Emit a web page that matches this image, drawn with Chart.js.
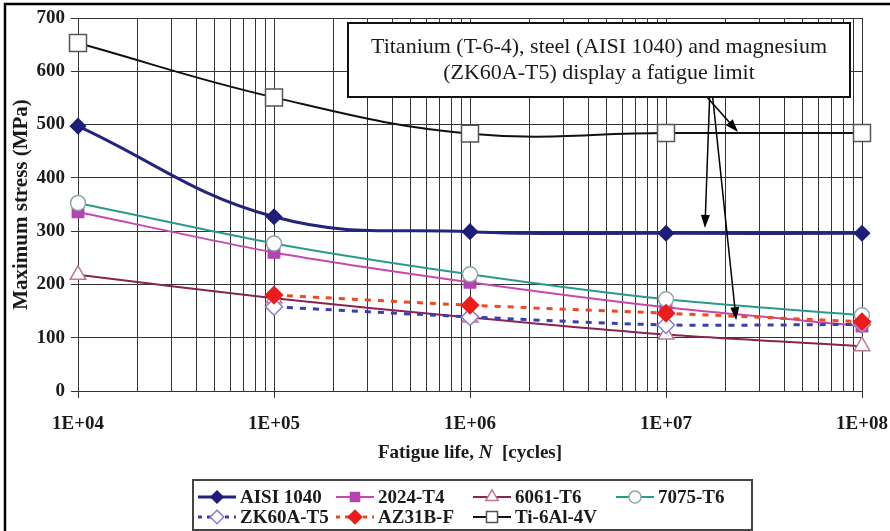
<!DOCTYPE html>
<html>
<head>
<meta charset="utf-8">
<script src="https://cdn.jsdelivr.net/npm/chart.js@4.4.1/dist/chart.umd.min.js"></script>
<style>
  html, body { margin: 0; padding: 0; background: #fff; }
  #wrap { width: 890px; height: 531px; position: relative; }
</style>
</head>
<body>
<div id="wrap"><canvas id="fatigueChart" width="890" height="531"></canvas></div>
<script>
// ===== Data =====
const lifeCycles = [1e4, 1e5, 1e6, 1e7, 1e8];
const xTickLabels = ['1E+04', '1E+05', '1E+06', '1E+07', '1E+08'];
const yTicks = [0, 100, 200, 300, 400, 500, 600, 700];

const seriesNames = ['AISI 1040', '2024-T4', '6061-T6', '7075-T6', 'ZK60A-T5', 'AZ31B-F', 'Ti-6Al-4V'];
const aisi1040 = [497, 327, 299, 296, 296];
const al2024T4 = [336, 260, 204, 157, 122];
const al6061T6 = [218, 174, 138, 106, 84];
const al7075T6 = [353, 277, 219, 172, 142];
const zk60aT5 = [null, 158, 139, 124, 125];
const az31bF = [null, 180, 161, 146, 130];
const ti6Al4V = [653, 551, 483, 484, 484];

const noteLines = ['Titanium (T-6-4), steel (AISI 1040) and magnesium', '(ZK60A-T5) display a fatigue limit'];
// arrow tips in data coords: [cycles, MPa]
const arrowStart = [1.67e7, 552];
const arrowTips = [[2.33e7, 486], [1.58e7, 306], [2.28e7, 133]];

const SERIF = '"Liberation Serif", "Times New Roman", serif';

// ===== Series styles =====
const styles = [
  { line: '#24247e', fill: '#1e1e78', edge: '#1e1e78', shape: 'rectRot', r: 7.5, width: 3, dash: [] },
  { line: '#c64aae', fill: '#b343b0', edge: '#b343b0', shape: 'rect', r: 8, width: 2, dash: [] },
  { line: '#8a2352', fill: '#ffffff', edge: '#c07890', shape: 'triangle', r: 9, width: 2, dash: [] },
  { line: '#2a9a8e', fill: '#ffffff', edge: '#8fa8a6', shape: 'circle', r: 7.5, width: 2, dash: [] },
  { line: '#3a3fae', fill: '#ffffff', edge: '#8a7acc', shape: 'rectRot', r: 8.5, width: 3, dash: [6, 7] },
  { line: '#ee4a22', fill: '#ec1c1c', edge: '#ec1c1c', shape: 'rectRot', r: 8.5, width: 3, dash: [6, 7] },
  { line: '#111111', fill: '#ffffff', edge: '#555555', shape: 'rect', r: 12, width: 2, dash: [] }
];
const seriesValues = [aisi1040, al2024T4, al6061T6, al7075T6, zk60aT5, az31bF, ti6Al4V];

const datasets = seriesNames.map((name, i) => {
  const s = styles[i];
  return {
    label: name,
    data: lifeCycles.map((x, k) => ({ x, y: seriesValues[i][k] })).filter(p => p.y !== null),
    borderColor: s.line,
    borderWidth: s.width,
    borderDash: s.dash,
    tension: (i === 0 || i === 6) ? 0.4 : 0.25,
    pointStyle: s.shape,
    pointRadius: s.r,
    pointBackgroundColor: s.fill,
    pointBorderColor: s.edge,
    pointBorderWidth: 1.5,
    clip: false,
    order: seriesNames.length - i // later series on top, like the source
  };
});

// draw a marker by hand for the legend
function drawMarker(ctx, s, x, y, scale) {
  const r = s.r * scale;
  ctx.save();
  ctx.fillStyle = s.fill;
  ctx.strokeStyle = s.edge;
  ctx.lineWidth = 1.5;
  ctx.setLineDash([]);
  ctx.beginPath();
  if (s.shape === 'rectRot') {
    ctx.moveTo(x, y - r); ctx.lineTo(x + r, y); ctx.lineTo(x, y + r); ctx.lineTo(x - r, y); ctx.closePath();
  } else if (s.shape === 'rect') {
    const h = r * Math.SQRT1_2;
    ctx.rect(x - h, y - h, 2 * h, 2 * h);
  } else if (s.shape === 'triangle') {
    ctx.moveTo(x, y - r); ctx.lineTo(x + r * 0.87, y + r * 0.5); ctx.lineTo(x - r * 0.87, y + r * 0.5); ctx.closePath();
  } else {
    ctx.arc(x, y, r, 0, Math.PI * 2);
  }
  ctx.fill();
  ctx.stroke();
  ctx.restore();
}

function drawArrow(ctx, x1, y1, x2, y2) {
  const ang = Math.atan2(y2 - y1, x2 - x1);
  const len = 13, half = 4.5;
  ctx.beginPath();
  ctx.moveTo(x1, y1);
  ctx.lineTo(x2 - Math.cos(ang) * len * 0.8, y2 - Math.sin(ang) * len * 0.8);
  ctx.stroke();
  ctx.beginPath();
  ctx.moveTo(x2, y2);
  ctx.lineTo(x2 - Math.cos(ang) * len - Math.sin(ang) * half, y2 - Math.sin(ang) * len + Math.cos(ang) * half);
  ctx.lineTo(x2 - Math.cos(ang) * len + Math.sin(ang) * half, y2 - Math.sin(ang) * len - Math.cos(ang) * half);
  ctx.closePath();
  ctx.fill();
}

/* ===== Extras: frame, note box, arrows, x title, legend ===== */
const legendCols = [5, 143, 280, 423];
const extrasPlugin = {
  id: 'extras',
  afterDraw(chart) {
    const ctx = chart.ctx;
    const xs = chart.scales.x, ys = chart.scales.y;
    const area = chart.chartArea;

    ctx.save();
    // figure frame (left + top visible)
    ctx.strokeStyle = '#000';
    ctx.lineWidth = 2.5;
    ctx.strokeRect(5, 4, 900, 600);

    // arrows
    ctx.strokeStyle = '#000';
    ctx.fillStyle = '#000';
    ctx.lineWidth = 1.5;
    const sx = xs.getPixelForValue(arrowStart[0]);
    const sy = ys.getPixelForValue(arrowStart[1]);
    arrowTips.forEach(([tx, ty], i) => {
      drawArrow(ctx, sx + (i - 1) * 3, sy, xs.getPixelForValue(tx), ys.getPixelForValue(ty));
    });

    // note box
    const bx = 348, by = 23, bw = 502, bh = 74;
    ctx.fillStyle = '#fff';
    ctx.fillRect(bx, by, bw, bh);
    ctx.strokeStyle = '#111';
    ctx.lineWidth = 2;
    ctx.strokeRect(bx, by, bw, bh);
    ctx.fillStyle = '#1a1a1a';
    ctx.font = '22px ' + SERIF;
    ctx.textAlign = 'center';
    ctx.textBaseline = 'middle';
    ctx.fillText(noteLines[0], bx + bw / 2, by + 24);
    ctx.fillText(noteLines[1], bx + bw / 2, by + 50);

    // x axis title with italic N
    const parts = [
      { t: 'Fatigue life, ', f: 'bold 19px ' + SERIF },
      { t: 'N', f: 'italic bold 19px ' + SERIF },
      { t: '  [cycles]', f: 'bold 19px ' + SERIF }
    ];
    let total = 0;
    parts.forEach(p => { ctx.font = p.f; p.w = ctx.measureText(p.t).width; total += p.w; });
    let cx = (area.left + area.right) / 2 - total / 2;
    ctx.textAlign = 'left';
    ctx.fillStyle = '#1a1a1a';
    parts.forEach(p => { ctx.font = p.f; ctx.fillText(p.t, cx, 453); cx += p.w; });

    // legend
    const lx = 193, ly = 480, lw = 559, lh = 50;
    ctx.fillStyle = '#fff';
    ctx.fillRect(lx, ly, lw, lh);
    ctx.strokeStyle = '#444';
    ctx.lineWidth = 2;
    ctx.strokeRect(lx, ly, lw, lh);
    ctx.font = 'bold 19px ' + SERIF;
    seriesNames.forEach((name, i) => {
      const s = styles[i];
      const col = i % 4, row = Math.floor(i / 4);
      const x0 = lx + legendCols[col];
      const y0 = ly + 17 + row * 20;
      ctx.strokeStyle = s.line;
      ctx.lineWidth = s.width;
      ctx.setLineDash(s.dash.length ? [4, 5] : []);
      ctx.beginPath();
      ctx.moveTo(x0, y0);
      ctx.lineTo(x0 + 38, y0);
      ctx.stroke();
      ctx.setLineDash([]);
      drawMarker(ctx, s, x0 + 19, y0, s.shape === 'rect' && i === 6 ? 0.65 : 0.8);
      ctx.fillStyle = '#1a1a1a';
      ctx.textAlign = 'left';
      ctx.fillText(name, x0 + 42, y0 + 1);
    });
    ctx.restore();
  }
};

const minorTicks = [];
for (let e = 4; e < 8; e++) {
  for (let m = 1; m < 10; m++) minorTicks.push(m * Math.pow(10, e));
}
minorTicks.push(1e8);

new Chart(document.getElementById('fatigueChart'), {
  type: 'line',
  data: { datasets },
  options: {
    responsive: false,
    animation: false,
    layout: { padding: { left: 0, top: 18, right: 28, bottom: 0 } },
    plugins: {
      legend: { display: false },
      tooltip: { enabled: false }
    },
    scales: {
      x: {
        type: 'logarithmic',
        min: 1e4,
        max: 1e8,
        afterBuildTicks: (scale) => { scale.ticks = minorTicks.map(v => ({ value: v })); },
        afterFit: (scale) => {
          scale.height = 140;
          scale.paddingLeft = 0;
          scale.paddingRight = 0;
        },
        ticks: {
          autoSkip: false,
          maxRotation: 0,
          padding: 15,
          color: '#1a1a1a',
          font: { family: SERIF, size: 19, weight: 'bold' },
          callback: (v) => {
            const k = lifeCycles.indexOf(v);
            return k >= 0 ? xTickLabels[k] : '';
          }
        },
        grid: {
          color: '#333',
          lineWidth: 1,
          tickLength: 7,
          tickColor: (c) => (c.tick && lifeCycles.includes(c.tick.value)) ? '#333' : 'rgba(0,0,0,0)'
        },
        border: { color: '#333', width: 1 }
      },
      y: {
        min: 0,
        max: 700,
        afterBuildTicks: (scale) => { scale.ticks = yTicks.map(v => ({ value: v })); },
        afterFit: (scale) => { scale.width = 78; },
        ticks: {
          padding: 6,
          color: '#1a1a1a',
          font: { family: SERIF, size: 19, weight: 'bold' }
        },
        grid: { color: '#333', lineWidth: 1, tickLength: 7 },
        border: { color: '#333', width: 1 },
        title: {
          display: true,
          text: 'Maximum stress (MPa)',
          color: '#1a1a1a',
          font: { family: SERIF, size: 21, weight: 'bold' },
          padding: { top: 9, bottom: 0 }
        }
      }
    }
  },
  plugins: [extrasPlugin]
});
</script>
</body>
</html>
